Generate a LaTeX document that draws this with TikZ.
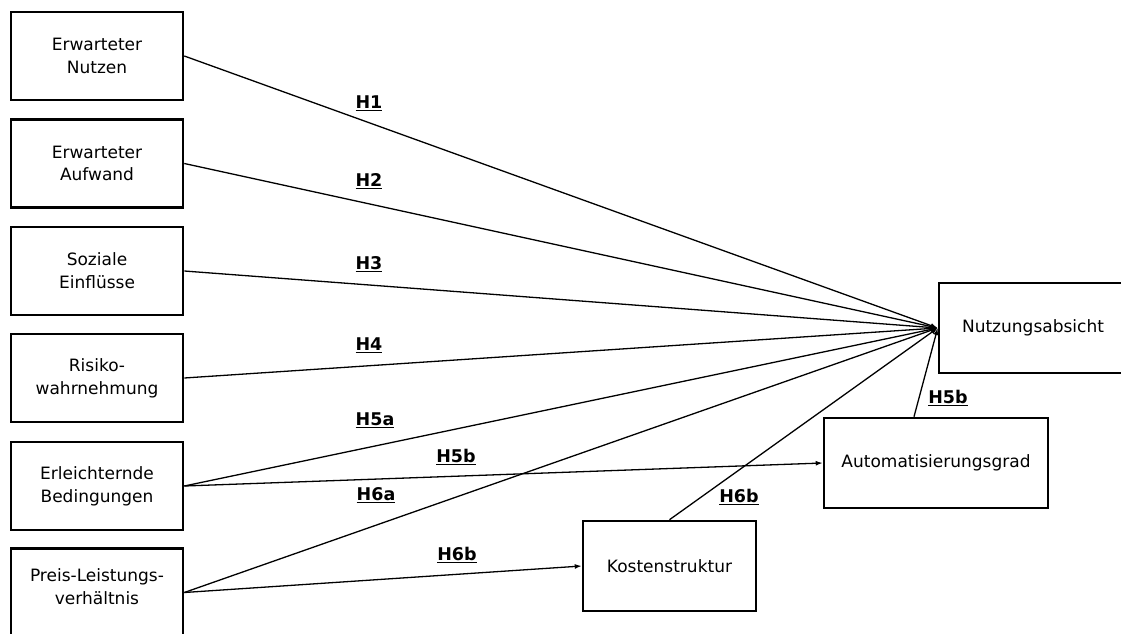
\documentclass[tikz,border=0pt]{standalone}
\usepackage{fontspec}
\setmainfont{DejaVu Sans}
\usetikzlibrary{arrows.meta}
\begin{document}
\begin{tikzpicture}[x=1pt,y=-1pt,
  txt/.style={align=center,inner sep=0pt,font=\fontsize{17}{22.7}\selectfont},
  box/.style={txt,draw,line width=2.6pt,rectangle},
  lbox/.style={box,minimum width=172pt,minimum height=88pt},
  conn/.style={line width=1.3pt,-{Latex[length=7pt,width=5pt]}},
  hyp/.style={font=\fontsize{17.5}{20}\selectfont\bfseries,inner sep=0pt}]
\useasboundingbox (0,0) rectangle (1121,634);
\fill[white] (0,0) rectangle (1121,634);
\node[lbox] (b1) at (97,56) {Erwarteter\\Nutzen};
\node[lbox] (b2) at (97,163.5) {Erwarteter\\Aufwand};
\node[lbox] (b3) at (97,271) {Soziale\\Einflüsse};
\node[lbox] (b4) at (97,378) {Risiko-\\wahrnehmung};
\node[lbox] (b5) at (97,486) {Erleichternde\\Bedingungen};
\node[lbox] (b6) at (97,592.5) {};
\node[txt] (t6) at (97,587) {Preis-Leistungs-\\verhältnis};
\node[box,minimum width=188pt,minimum height=90pt] (N) at (1033,328) {Nutzungsabsicht};
\node[box,minimum width=224pt,minimum height=90pt] (A) at (936,463) {Automatisierungsgrad};
\node[box,minimum width=173pt,minimum height=90pt] (K) at (669.5,566) {Kostenstruktur};
\draw[conn] (b1.east) -- (N.west);
\draw[conn] (b2.east) -- (N.west);
\draw[conn] (b3.east) -- (N.west);
\draw[conn] (b4.east) -- (N.west);
\draw[conn] (b5.east) -- (N.west);
\draw[conn] (b5.east) -- (A.west);
\draw[conn] (b6.east) -- (N.west);
\draw[conn] (b6.east) -- (K.west);
\draw[conn] (K.north) -- (N.west);
\draw[conn] ([xshift=-22pt]A.north) -- (N.west);
\node[hyp] (h1) at (369,103) {\underline{H1}};
\node[hyp] (h2) at (369,181) {\underline{H2}};
\node[hyp] (h3) at (369,264) {\underline{H3}};
\node[hyp] (h4) at (369,345) {\underline{H4}};
\node[hyp] (h5a) at (375,420) {\underline{H5a}};
\node[hyp] (h5b) at (456,457) {\underline{H5b}};
\node[hyp] (h6a) at (376,495) {\underline{H6a}};
\node[hyp] (h6b) at (457,555) {\underline{H6b}};
\node[hyp] (h6bb) at (739,497) {\underline{H6b}};
\node[hyp] (h5bb) at (948,398) {\underline{H5b}};
\end{tikzpicture}
\end{document}
